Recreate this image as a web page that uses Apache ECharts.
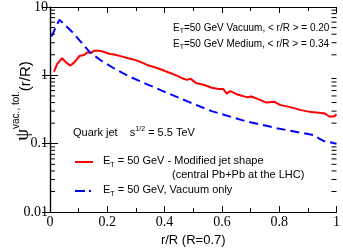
<!DOCTYPE html>
<html><head><meta charset="utf-8">
<script src="https://cdn.jsdelivr.net/npm/echarts@6/dist/echarts.min.js"></script>
<style>html,body{margin:0;padding:0;background:#fff}#c{width:343px;height:252px}</style>
</head><body><div id="c"></div>
<script>
// Modified jet shape (red) : r/R and psi
var redR = [0.014,0.025,0.042,0.056,0.071,0.085,0.103,0.118,0.131,0.143,0.155,0.172,0.189,0.206,0.224,0.253,0.276,0.299,0.311,0.339,0.374,0.408,0.443,0.466,0.478,0.491,0.51,0.536,0.565,0.588,0.605,0.617,0.629,0.657,0.686,0.703,0.727,0.755,0.784,0.802,0.842,0.876,0.911,0.957,0.975,0.992,1.0];
var redPsi = [1.13,1.47,1.78,1.55,1.39,1.55,1.92,1.98,2.18,2.13,2.3,2.3,2.2,2.07,2.02,1.88,1.76,1.67,1.6,1.42,1.28,1.13,0.99,0.89,0.86,0.89,0.77,0.73,0.66,0.63,0.63,0.54,0.59,0.52,0.48,0.49,0.45,0.40,0.41,0.37,0.34,0.31,0.29,0.28,0.25,0.25,0.27];
// Vacuum only (blue dashed)
var blueR = [0.005,0.033,0.08,0.138,0.178,0.224,0.28,0.339,0.4,0.484,0.564,0.68,0.796,0.924,0.938,0.955,1.0];
var bluePsi = [3.7,6.5,4.2,2.2,1.65,1.26,0.95,0.74,0.575,0.41,0.30,0.215,0.167,0.133,0.12,0.11,0.1];
// axis ticks
var xTicks = [0,0.2,0.4,0.6,0.8,1];
var yDecades = [0.01,0.1,1,10];
var minorMult = [2,3,4,5,6,7,8,9];

var yMinor = [];
for (var i = 0; i < yDecades.length - 1; i++) for (var j = 0; j < minorMult.length; j++) yMinor.push([0, yDecades[i]*minorMult[j]]);

function zip(a,b){return a.map(function(v,i){return [v,b[i]];});}

var chart = echarts.init(document.getElementById('c'), null, {renderer:'canvas'});
var serif = 'Liberation Serif';
var sans = 'Liberation Sans';
var xCommon = {type:'value',min:0,max:1,interval:0.2,
  axisLine:{lineStyle:{color:'#000',width:1.2}},
  axisTick:{inside:true,length:6,lineStyle:{color:'#000'}},
  minorTick:{show:true,splitNumber:2,length:4,lineStyle:{color:'#000'}},
  splitLine:{show:false}};
var yCommon = {type:'log',logBase:10,min:0.01,max:10,
  axisLine:{lineStyle:{color:'#000',width:1.2}},
  axisTick:{inside:true,length:8,lineStyle:{color:'#000'}},
  splitLine:{show:false}};

chart.setOption({
  animation:false,
  grid:{left:50,right:4,top:5,bottom:31},
  xAxis:[
    Object.assign({},xCommon,{position:'bottom',
      axisLabel:{fontFamily:serif,fontSize:14,color:'#000',margin:3,
        formatter:function(v){return String(v);}},
      name:'r/R (R=0.7)',nameLocation:'middle',nameGap:17,
      nameTextStyle:{fontFamily:sans,fontSize:13,color:'#000'}}),
    Object.assign({},xCommon,{position:'top',axisLabel:{show:false}})
  ],
  yAxis:[
    Object.assign({},yCommon,{position:'left',
      axisLabel:{fontFamily:serif,fontSize:14,color:'#000',margin:2,
        formatter:function(v){return String(+v.toPrecision(3));}}}),
    Object.assign({},yCommon,{position:'right',axisLabel:{show:false}})
  ],
  series:[
    {type:'line',data:zip(redR,redPsi),showSymbol:false,symbol:'none',
      lineStyle:{color:'#ff0000',width:2},z:3},
    {type:'line',data:zip(blueR,bluePsi),showSymbol:false,symbol:'none',
      lineStyle:{color:'#0000ff',width:2,type:[9,5]},z:4},
    {type:'custom',data:yMinor,silent:true,clip:false,z:5,
      renderItem:function(params,api){
        var l = api.coord([0,api.value(1)]);
        var r = api.coord([1,api.value(1)]);
        return {type:'group',children:[
          {type:'line',shape:{x1:l[0],y1:l[1],x2:l[0]+5,y2:l[1]},style:{stroke:'#000',lineWidth:1}},
          {type:'line',shape:{x1:r[0],y1:r[1],x2:r[0]-5,y2:r[1]},style:{stroke:'#000',lineWidth:1}}
        ]};
      }}
  ],
  graphic:[
    {type:'text',x:22,y:101,rotation:Math.PI/2,style:{
      text:'{p|ψ}{s|vac., tot.}{n|(r/R)}',align:'center',verticalAlign:'middle',
      rich:{p:{fontFamily:serif,fontSize:19,lineHeight:22,verticalAlign:'bottom'},
            s:{fontFamily:sans,fontSize:10,lineHeight:12,verticalAlign:'top'},
            n:{fontFamily:sans,fontSize:15,lineHeight:22,verticalAlign:'bottom'}}}},
    {type:'text',x:173,y:29,style:{text:'{m|E}{t|T}{m|=50 GeV Vacuum, < r/R > = 0.20}',verticalAlign:'middle',
      rich:{m:{fontFamily:sans,fontSize:10,lineHeight:12,verticalAlign:'top'},t:{fontFamily:sans,fontSize:7,lineHeight:7,verticalAlign:'bottom'}}}},
    {type:'text',x:173,y:45,style:{text:'{m|E}{t|T}{m|=50 GeV Medium, < r/R > = 0.34}',verticalAlign:'middle',
      rich:{m:{fontFamily:sans,fontSize:10,lineHeight:12,verticalAlign:'top'},t:{fontFamily:sans,fontSize:7,lineHeight:7,verticalAlign:'bottom'}}}},
    {type:'text',x:73,y:132,style:{text:'{m|Quark jet    s}{u|1/2}{m| = 5.5 TeV}',verticalAlign:'middle',
      rich:{m:{fontFamily:sans,fontSize:11,lineHeight:13,verticalAlign:'bottom'},u:{fontFamily:sans,fontSize:7,lineHeight:7,verticalAlign:'top'}}}},
    {type:'line',shape:{x1:75,y1:162,x2:93,y2:162},style:{stroke:'#ff0000',lineWidth:2}},
    {type:'text',x:103,y:162,style:{text:'{m|E}{t|T}{m| = 50 GeV - Modified jet shape}',verticalAlign:'middle',
      rich:{m:{fontFamily:sans,fontSize:11,lineHeight:13,verticalAlign:'top'},t:{fontFamily:sans,fontSize:7,lineHeight:7,verticalAlign:'bottom'}}}},
    {type:'text',x:172,y:175,style:{text:'(central Pb+Pb at the LHC)',verticalAlign:'middle',fontFamily:sans,fontSize:11}},
    {type:'line',shape:{x1:75,y1:191,x2:93,y2:191},style:{stroke:'#0000ff',lineWidth:2,lineDash:[10,4,2,4]}},
    {type:'text',x:103,y:191,style:{text:'{m|E}{t|T}{m| = 50 GeV, Vacuum only}',verticalAlign:'middle',
      rich:{m:{fontFamily:sans,fontSize:11,lineHeight:13,verticalAlign:'top'},t:{fontFamily:sans,fontSize:7,lineHeight:7,verticalAlign:'bottom'}}}}
  ]
});
</script></body></html>
